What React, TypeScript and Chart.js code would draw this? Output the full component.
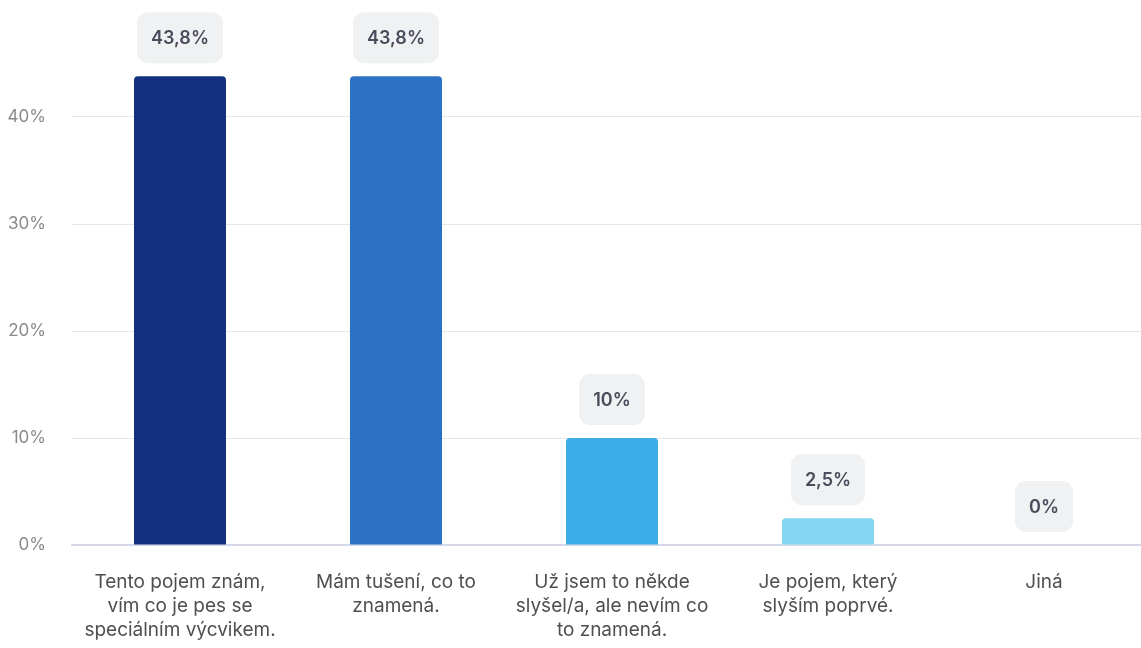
import React, { useEffect, useRef } from "react";
import { Chart, registerables } from "chart.js";

Chart.register(...registerables);

const categories: string[][] = [
  ["Tento pojem znám,", "vím co je pes se", "speciálním výcvikem."],
  ["Mám tušení, co to", "znamená."],
  ["Už jsem to někde", "slyšel/a, ale nevím co", "to znamená."],
  ["Je pojem, který", "slyším poprvé."],
  ["Jiná"],
];
const values: number[] = [43.8, 43.8, 10, 2.5, 0];
const valueLabels: string[] = ["43,8%", "43,8%", "10%", "2,5%", "0%"];
const barColors: string[] = ["#12307f", "#2b72c4", "#3aade6", "#84d7f3", "#c5eaf8"];
const yTicks: number[] = [0, 10, 20, 30, 40];

const FONT = "Inter, 'Noto Sans', sans-serif";

const labelBoxPlugin = {
  id: "labelBoxes",
  afterDatasetsDraw(chart: any) {
    const ctx = chart.ctx;
    const meta = chart.getDatasetMeta(0);
    ctx.save();
    ctx.font = "600 18px " + FONT;
    ctx.textAlign = "center";
    ctx.textBaseline = "middle";
    meta.data.forEach((bar: any, i: number) => {
      const text = valueLabels[i];
      const tw = ctx.measureText(text).width;
      const w = tw + 28;
      const h = 51;
      const x = bar.x - w / 2;
      const y = bar.y - 13 - h;
      ctx.fillStyle = "#f0f1f2";
      ctx.beginPath();
      (ctx as any).roundRect(x, y, w, h, 11);
      ctx.fill();
      ctx.fillStyle = "#4b4b5c";
      ctx.fillText(text, bar.x, y + h / 2 + 1);
    });
    ctx.restore();
  },
};

export default function App() {
  const ref = useRef<HTMLCanvasElement | null>(null);
  useEffect(() => {
    document.body.style.overflow = "hidden";
    const chart = new Chart(ref.current as HTMLCanvasElement, {
      type: "bar",
      data: {
        labels: categories,
        datasets: [
          {
            data: values,
            backgroundColor: barColors,
            borderRadius: 4,
            barPercentage: 0.426,
            categoryPercentage: 1,
          },
        ],
      },
      options: {
        animation: false,
        responsive: false,
        layout: { padding: { left: 0, top: 10, right: 0, bottom: 0 } },
        plugins: { legend: { display: false }, tooltip: { enabled: false } },
        scales: {
          x: {
            afterFit: (s: any) => {
              s.paddingLeft = 0;
              s.paddingRight = 0;
              s.height = 103;
            },
            grid: { display: false, drawTicks: false },
            border: { display: true, color: "#d6d9ea", width: 2 },
            ticks: {
              padding: 25,
              color: "#4f4f4f",
              font: { size: 19, family: FONT, lineHeight: 24 / 19 },
              maxRotation: 0,
              autoSkip: false,
            },
          },
          y: {
            min: 0,
            max: 50,
            afterBuildTicks: (axis: any) => {
              axis.ticks = yTicks.map((v) => ({ value: v }));
            },
            afterFit: (s: any) => {
              s.width = 72;
              s.paddingTop = 0;
              s.paddingBottom = 0;
            },
            grid: { color: "#e6e6e6", drawTicks: false, lineWidth: 1 },
            border: { display: false },
            ticks: {
              padding: 26,
              color: "#8a8a8a",
              font: { size: 17, family: FONT },
              callback: (v: any) => v + "%",
            },
          },
        },
      },
      plugins: [labelBoxPlugin],
    });
    return () => chart.destroy();
  }, []);
  return (
    <div style={{ position: "fixed", left: 0, top: 0, width: 1152, height: 648, overflow: "hidden", background: "#fff" }}>
      <canvas ref={ref} width={1152} height={648} style={{ display: "block" }} />
    </div>
  );
}
